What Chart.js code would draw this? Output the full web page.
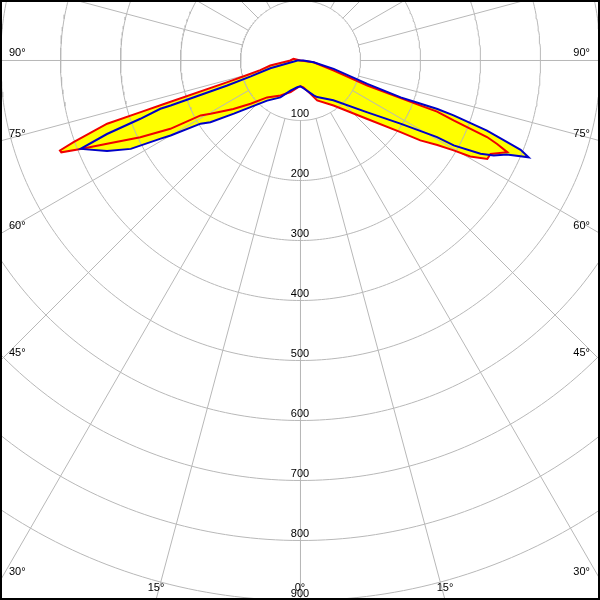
<!DOCTYPE html>
<html>
<head>
<meta charset="utf-8">
<script src="https://cdn.jsdelivr.net/npm/chart.js@4.4.1/dist/chart.umd.min.js"></script>
<style>
  body { margin: 0; background: #fff; }
  canvas { display: block; }
</style>
</head>
<body>
<canvas id="polarChart" width="600" height="600"></canvas>
<script>
// rings (cd) and angle ticks
var ringValues = [100, 200, 300, 400, 500, 600, 700, 800, 900];
var angleTicks = [0, 15, 30, 45, 60, 75, 90];

// C180 (left) and C0 (right) half-planes, red curve - gamma in deg, intensity in cd
var redLeftGamma = [0, 4, 17.5, 29.7, 42.2, 49.1, 54.2, 59.4, 61.2, 62.3, 64.4, 66.7, 68.1, 69.0, 69.5, 70.2, 71.9, 72.1, 72.3, 73.5, 75.1, 76.6, 80.5, 82.9, 90, 103.6, 180];
var redLeftCd = [43, 44, 55, 67, 83, 110, 138, 174, 190, 245, 296, 351, 395, 427, 428, 402, 339, 280, 240, 127, 86, 69, 51, 34, 17, 12, 0];
var redRightGamma = [0, 6, 16.7, 22.7, 36.3, 48.8, 54.4, 56.3, 58.3, 59.6, 60.5, 62.2, 63.8, 66.1, 67.0, 67.7, 68.6, 69.5, 69.4, 69.4, 73.1, 82.5, 180];
var redRightCd = [43, 45, 58, 72, 93, 148, 205, 240, 268, 296, 325, 352, 353, 377, 356, 336, 274, 243, 214, 119, 57, 22, 0];

// C270 (left) and C90 (right) half-planes, blue curve
var blueLeftGamma = [0, 7, 18.4, 28.6, 39.8, 47, 51.4, 55.6, 57.7, 60.0, 60.8, 62.5, 64.9, 68.1, 69.2, 70.0, 71.0, 70.9, 71.2, 72.3, 75.6, 90, 180];
var blueLeftCd = [43, 45, 53, 70, 87, 114, 142, 182, 197, 250, 267, 319, 356, 395, 345, 284, 247, 229, 129, 87, 52, 5, 0];
var blueRightGamma = [0, 6.7, 20.8, 24.5, 39.5, 52.2, 57.7, 60.7, 61.0, 62.6, 63.8, 65.5, 67.0, 67.9, 68.2, 69.4, 70.3, 70.5, 70.2, 69.8, 70.7, 75.9, 82.5, 90, 180];
var blueRightCd = [43, 47, 62, 67, 86, 141, 197, 261, 292, 338, 359, 378, 413, 396, 382, 332, 271, 242, 213, 178, 118, 57, 22, 5, 0];

function toXY(gamma, cd, side) {
    var a = gamma * Math.PI / 180;
    return { x: side * cd * Math.sin(a), y: -cd * Math.cos(a) };
}

// closed outline: left half from 180 down to 0, then right half from 0 up to 180
function outline(lg, lc, rg, rc) {
    var pts = [];
    for (var i = lg.length - 1; i >= 0; i--) pts.push(toXY(lg[i], lc[i], -1));
    for (var j = 0; j < rg.length; j++) pts.push(toXY(rg[j], rc[j], 1));
    return pts;
}

var redPts = outline(redLeftGamma, redLeftCd, redRightGamma, redRightCd);
var bluePts = outline(blueLeftGamma, blueLeftCd, blueRightGamma, blueRightCd);

var gridColor = '#b8b8b8';
var datasets = [];

// yellow fill, under everything
datasets.push({ data: redPts, showLine: true, pointRadius: 0, borderWidth: 0, borderColor: 'rgba(0,0,0,0)', backgroundColor: '#ffff00', fill: 'shape', order: 10 });
datasets.push({ data: bluePts, showLine: true, pointRadius: 0, borderWidth: 0, borderColor: 'rgba(0,0,0,0)', backgroundColor: '#ffff00', fill: 'shape', order: 9 });

// rings
ringValues.forEach(function (r) {
    var pts = [];
    for (var d = 0; d <= 360; d += 1) pts.push(toXY(d, r, 1));
    datasets.push({ data: pts, showLine: true, pointRadius: 0, borderWidth: 1, borderColor: gridColor, fill: false, order: 5 });
});

// spokes every 15 deg, starting at the 100 ring
for (var s = 0; s < 360; s += 15) {
    datasets.push({ data: [toXY(s, ringValues[0], 1), toXY(s, 1400, 1)], showLine: true, pointRadius: 0, borderWidth: 1, borderColor: gridColor, fill: false, order: 5 });
}

// curves on top
datasets.push({ data: redPts, showLine: true, pointRadius: 0, borderWidth: 2, borderColor: '#f00000', fill: false, order: 2 });
datasets.push({ data: bluePts, showLine: true, pointRadius: 0, borderWidth: 2, borderColor: '#0000c8', fill: false, order: 1 });

var labelsPlugin = {
    id: 'polarLabels',
    afterDraw: function (chart) {
        var ctx = chart.ctx;
        var xs = chart.scales.x, ys = chart.scales.y;
        var W = chart.width, H = chart.height;
        ctx.save();
        ctx.font = '11px "Liberation Sans", Arial, sans-serif';
        ctx.fillStyle = '#000';

        // ring values on the vertical axis
        ctx.textAlign = 'center';
        ctx.textBaseline = 'alphabetic';
        ringValues.forEach(function (r) {
            ctx.fillText(String(r), Math.round(xs.getPixelForValue(0)), Math.round(ys.getPixelForValue(-r)) - 3);
        });

        // angle labels where the spokes leave the frame
        angleTicks.forEach(function (g) {
            [-1, 1].forEach(function (side) {
                if (g === 0 && side === -1) return;
                var a = g * Math.PI / 180;
                var tx = Math.sin(a) > 1e-6 ? xs.max / Math.sin(a) : Infinity;
                var ty = Math.cos(a) > 1e-6 ? -ys.min / Math.cos(a) : Infinity;
                var t = Math.min(tx, ty);
                var px = xs.getPixelForValue(side * t * Math.sin(a));
                var py = ys.getPixelForValue(-t * Math.cos(a));
                var txt = g + '\u00b0';
                ctx.textBaseline = 'middle';
                if (tx < ty) {
                    ctx.textAlign = side < 0 ? 'left' : 'right';
                    ctx.fillText(txt, side < 0 ? 9 : W - 10, Math.round(py) - 7);
                } else {
                    ctx.textAlign = 'center';
                    ctx.fillText(txt, Math.round(px), Math.round(py) - 12);
                }
            });
        });

        // frame
        ctx.strokeStyle = '#000';
        ctx.lineWidth = 2;
        ctx.strokeRect(1, 1, W - 2, H - 2);
        ctx.restore();
    }
};

new Chart(document.getElementById('polarChart'), {
    type: 'scatter',
    data: { datasets: datasets },
    options: {
        responsive: false,
        animation: false,
        layout: { padding: 0 },
        plugins: { legend: { display: false }, tooltip: { enabled: false } },
        scales: {
            // half-pixel offset keeps the axis lines crisp
            x: { type: 'linear', min: -500.833, max: 499.167, display: false },
            y: { type: 'linear', min: -899.167, max: 100.833, display: false }
        }
    },
    plugins: [labelsPlugin]
});
</script>
</body>
</html>
